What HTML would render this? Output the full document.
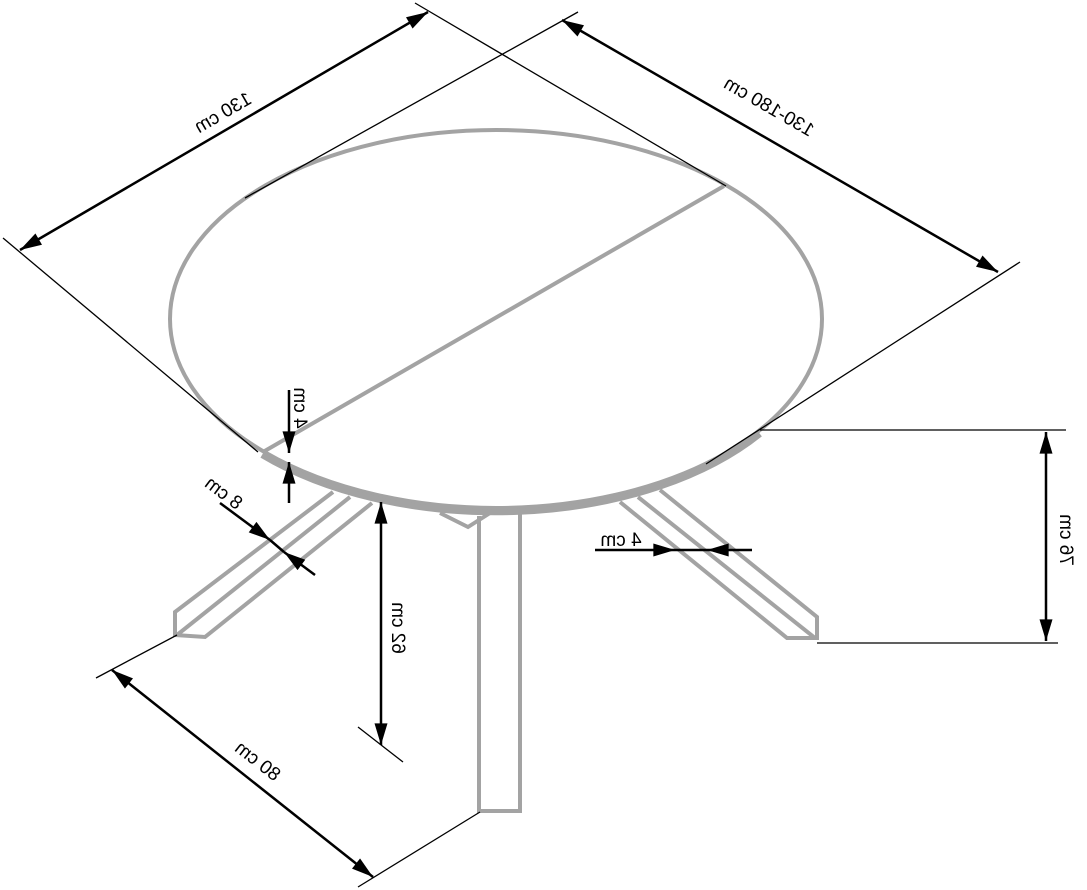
<!DOCTYPE html>
<html><head><meta charset="utf-8"><style>
html,body{margin:0;padding:0;background:#fff}
svg{display:block}
text{font-family:"Liberation Sans",sans-serif;font-size:19px;fill:#000}
</style></head><body>
<svg width="1087" height="890" viewBox="0 0 1087 890" xmlns="http://www.w3.org/2000/svg">
<defs>
<marker id="ar" viewBox="0 0 20 12" refX="20" refY="6" markerWidth="22" markerHeight="13" orient="auto-start-reverse" markerUnits="userSpaceOnUse"><path d="M0,0 L20,6 L0,12 z" fill="#000"/></marker>
</defs>
<g fill="none" stroke="#a3a3a3" stroke-width="4" stroke-linejoin="miter">
<path d="M333,492 L175,612 L175,635 L205,637 L372,503"/>
<path d="M350,497 L177,635"/>
<path d="M479,516 L479,811 L520,811 L520,514"/>
<path d="M440,513 L468,527 L490,513"/>
<path d="M620,502 L787,638 L817,638 L817,617 L660,490"/>
<path d="M638,497 L815,638"/>
<ellipse cx="496" cy="319" rx="326" ry="189"/>
<path d="M262,455 A326,189 0 0 0 760,434" stroke-width="6"/>
<path d="M263,452 L724,186"/>
</g>
<g stroke="#000" stroke-width="1.3" fill="none">
<line x1="3" y1="238" x2="258" y2="452"/>
<line x1="415" y1="3" x2="726" y2="186"/>
<line x1="20" y1="250" x2="428" y2="12" stroke-width="2.5" marker-start="url(#ar)" marker-end="url(#ar)"/>
<line x1="578" y1="12" x2="245" y2="198"/>
<line x1="1020" y1="262" x2="706" y2="464"/>
<line x1="562" y1="20" x2="998" y2="272" stroke-width="2.5" marker-start="url(#ar)" marker-end="url(#ar)"/>
<line x1="289" y1="390" x2="289" y2="453" stroke-width="2.5" marker-end="url(#ar)"/>
<line x1="289" y1="503" x2="289" y2="462" stroke-width="2.5" marker-end="url(#ar)"/>
<line x1="220" y1="503" x2="270" y2="540" stroke-width="2.5" marker-end="url(#ar)"/>
<line x1="315" y1="575" x2="284" y2="552" stroke-width="2.5" marker-end="url(#ar)"/>
<line x1="270" y1="540" x2="284" y2="552" stroke-width="2.5"/>
<line x1="381" y1="745" x2="381" y2="502" stroke-width="2.5" marker-start="url(#ar)" marker-end="url(#ar)"/>
<line x1="358" y1="727" x2="403" y2="762"/>
<line x1="595" y1="550" x2="675" y2="550" stroke-width="2.5" marker-end="url(#ar)"/>
<line x1="752" y1="550" x2="707" y2="550" stroke-width="2.5" marker-end="url(#ar)"/>
<line x1="675" y1="550" x2="707" y2="550" stroke-width="2.5"/>
<line x1="760" y1="430" x2="1066" y2="430"/>
<line x1="817" y1="643" x2="1058" y2="643"/>
<line x1="1046" y1="432" x2="1046" y2="641" stroke-width="2.5" marker-start="url(#ar)" marker-end="url(#ar)"/>
<line x1="96" y1="678" x2="177" y2="635"/>
<line x1="358" y1="887" x2="480" y2="812"/>
<line x1="112" y1="670" x2="373" y2="877" stroke-width="2.5" marker-start="url(#ar)" marker-end="url(#ar)"/>
</g>
<g text-anchor="middle">
<text transform="translate(226,118) rotate(-30) scale(-1,1)">130 cm</text>
<text transform="translate(766,112) rotate(30) scale(-1,1)">130-180 cm</text>
<text transform="translate(294,408) rotate(90) scale(-1,1)">4 cm</text>
<text transform="translate(220,498) rotate(37) scale(-1,1)">8 cm</text>
<text transform="translate(392,628) rotate(90) scale(-1,1)">62 cm</text>
<text transform="translate(621,546) scale(-1,1)">4 cm</text>
<text transform="translate(1060,540) rotate(90) scale(-1,1)">76 cm</text>
<text transform="translate(254,766) rotate(38) scale(-1,1)">80 cm</text>
</g>
</svg>
</body></html>
